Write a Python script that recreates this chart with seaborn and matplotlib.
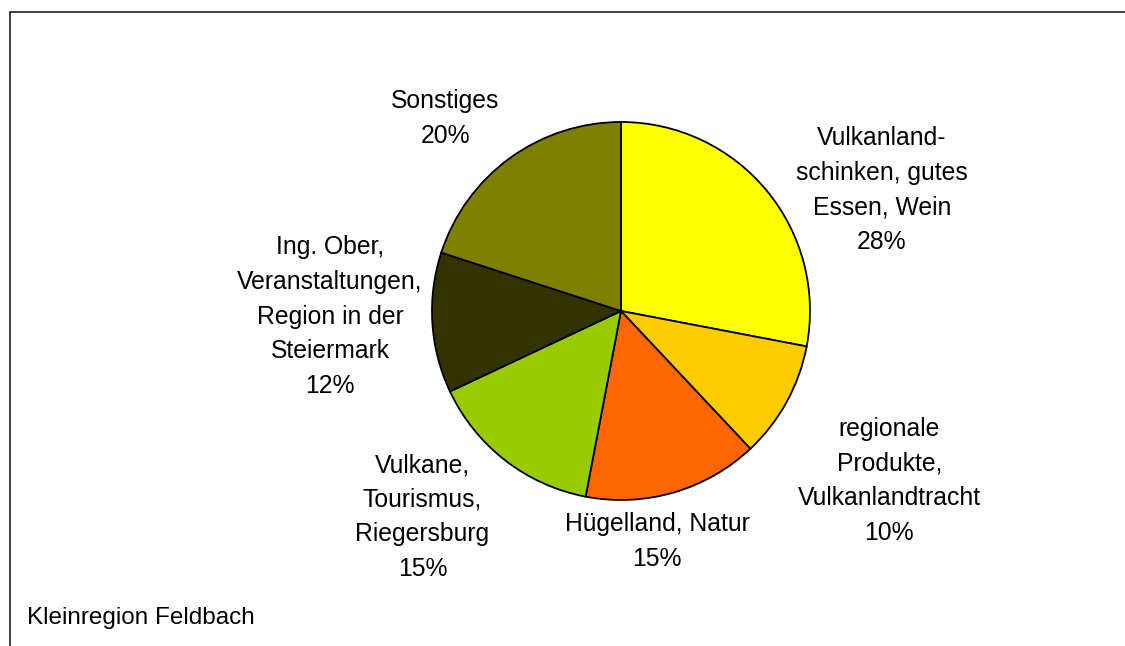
import matplotlib
matplotlib.use("Agg")
import matplotlib.pyplot as plt
from matplotlib.lines import Line2D
import seaborn as sns

sns.set_style("white")
plt.rcParams["font.family"] = ["Liberation Sans", "DejaVu Sans"]

categories = [
    "Vulkanland-\nschinken, gutes\nEssen, Wein",
    "regionale\nProdukte,\nVulkanlandtracht",
    "Hügelland, Natur",
    "Vulkane,\nTourismus,\nRiegersburg",
    "Ing. Ober,\nVeranstaltungen,\nRegion in der\nSteiermark",
    "Sonstiges",
]
shares = [28, 10, 15, 15, 12, 20]
colors = ["#FFFF00", "#FFCC00", "#FF6600", "#99CC00", "#333300", "#808000"]
caption = "Kleinregion Feldbach"

# label anchor points, in units of the pie radius
label_xy = [(1.38, 0.64), (1.42, -0.90), (0.19, -1.22),
            (-1.05, -1.09), (-1.54, -0.03), (-0.93, 1.02)]

W, H, DPI = 1125, 646, 100
cx, cy, R = 621, 311, 189

fig = plt.figure(figsize=(W / DPI, H / DPI), dpi=DPI)
fig.patch.set_facecolor("white")
ax = fig.add_axes([0, 0, 1, 1])

ax.pie(shares, colors=colors, startangle=90, counterclock=False,
       radius=1, center=(0, 0),
       wedgeprops=dict(edgecolor="black", linewidth=1.3))

for lab, val, (x, y) in zip(categories, shares, label_xy):
    ax.text(x, y, f"{lab}\n{val}%", ha="center", va="center",
            fontsize=17.8, linespacing=1.56, color="black")

ax.set_xlim(-cx / R, (W - cx) / R)
ax.set_ylim(-(H - cy) / R, cy / R)
ax.set_aspect("equal")
ax.axis("off")

fig.text(27 / W, 1 - 618 / H, caption, ha="left", va="center",
         fontsize=17.5, color="black")

# frame lines along the top and left edges
fig.add_artist(Line2D([9.5 / W, 1], [1 - 11.5 / H, 1 - 11.5 / H],
                      transform=fig.transFigure, color="#333333", lw=1.3))
fig.add_artist(Line2D([9.5 / W, 9.5 / W], [0, 1 - 11.5 / H],
                      transform=fig.transFigure, color="#333333", lw=1.3))

fig.savefig("out.png", dpi=DPI, facecolor="white")
